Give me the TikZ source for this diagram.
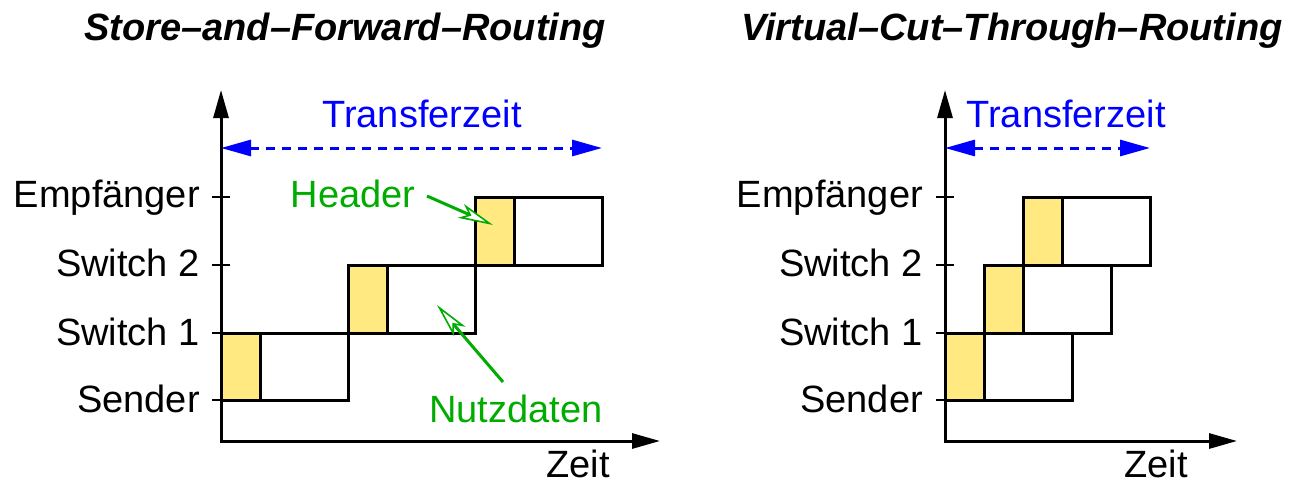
\documentclass[tikz,border=0pt]{standalone}
\usepackage{fontspec}
\setmainfont{Liberation Sans}
\usetikzlibrary{arrows.meta}
\definecolor{hdrfill}{RGB}{255,233,128}
\definecolor{notegreen}{RGB}{0,172,0}
\begin{document}
\begin{tikzpicture}[x=1pt,y=-1pt,
  axisline/.style={line width=3pt,
    {Triangle[length=28pt,width=15pt]}-{Triangle[length=28pt,width=15pt]}},
  tickline/.style={line width=2.5pt},
  hdrbox/.style={draw, line width=3pt, fill=hdrfill},
  databox/.style={draw, line width=3pt},
  span/.style={blue, line width=3pt, dash pattern=on 9pt off 7pt,
    {Triangle[length=30pt,width=16pt]}-{Triangle[length=30pt,width=16pt]}},
  callout/.style={notegreen, line width=3pt,
    -{Stealth[length=35pt,width=15pt,inset=9pt,line width=1.6pt,fill=white]}},
  txt/.style={inner sep=0pt, font=\fontsize{38}{40}\selectfont},
  ttl/.style={inner sep=0pt, font=\fontsize{38}{40}\selectfont\bfseries\itshape},
  lvl/.style={txt, anchor=base east}]
\useasboundingbox (0,0) rectangle (1308,485);

% ---------- titles ----------
\node[ttl, anchor=base] (ttlA) at (345,40) {Store–and–Forward–Routing};
\node[ttl, anchor=base] (ttlB) at (1012,40) {Virtual–Cut–Through–Routing};

% ---------- store-and-forward ----------
\draw[hdrbox]  (221,333) rectangle (260,400);
\draw[databox] (260,333) rectangle (348,400);
\draw[hdrbox]  (348,265) rectangle (387,333);
\draw[databox] (387,265) rectangle (475,333);
\draw[hdrbox]  (475,197) rectangle (514,265);
\draw[databox] (514,197) rectangle (602,265);

\coordinate (yA) at (221,90);
\coordinate (oA) at (221,441);
\coordinate (xA) at (660,441);
\draw[axisline] (yA) -- (oA) -- (xA);
\foreach \y in {400,333,265,197}
  \draw[tickline] (212,\y) -- (230,\y);

\node[lvl] (sndA) at (200,412) {Sender};
\node[lvl] (swaA) at (200,345) {Switch 1};
\node[lvl] (swbA) at (200,276) {Switch 2};
\node[lvl] (empA) at (200,207) {Empfänger};
\node[txt, anchor=base] (zeitA) at (578,477) {Zeit};

\coordinate (tLA) at (221,148);
\coordinate (tRA) at (602,148);
\draw[span] (tLA) -- (tRA);
\node[txt, anchor=base, blue] (tzA) at (422,127) {Transferzeit};

\node[txt, anchor=base, notegreen] (hdrlbl) at (353,207) {Header};
\coordinate (hdrfrom) at (427,196);
\coordinate (hdrto) at (493,225);
\draw[callout] (hdrfrom) -- (hdrto);

\node[txt, anchor=base, notegreen] (nutzlbl) at (516,422) {Nutzdaten};
\coordinate (nutzfrom) at (503,382);
\coordinate (nutzto) at (437,305);
\draw[callout] (nutzfrom) -- (nutzto);

% ---------- virtual cut-through ----------
\draw[hdrbox]  (945,333) rectangle (984,400);
\draw[databox] (984,333) rectangle (1072,400);
\draw[hdrbox]  (984,265) rectangle (1023,333);
\draw[databox] (1023,265) rectangle (1111,333);
\draw[hdrbox]  (1023,197) rectangle (1062,265);
\draw[databox] (1062,197) rectangle (1150,265);

\coordinate (yB) at (945,90);
\coordinate (oB) at (945,441);
\coordinate (xB) at (1237,441);
\draw[axisline] (yB) -- (oB) -- (xB);
\foreach \y in {400,333,265,197}
  \draw[tickline] (936,\y) -- (954,\y);

\node[lvl] (sndB) at (923,412) {Sender};
\node[lvl] (swaB) at (923,345) {Switch 1};
\node[lvl] (swbB) at (923,276) {Switch 2};
\node[lvl] (empB) at (923,207) {Empfänger};
\node[txt, anchor=base] (zeitB) at (1156,477) {Zeit};

\coordinate (tLB) at (945,148);
\coordinate (tRB) at (1150,148);
\draw[span] (tLB) -- (tRB);
\node[txt, anchor=base, blue] (tzB) at (1066,127) {Transferzeit};
\end{tikzpicture}
\end{document}
